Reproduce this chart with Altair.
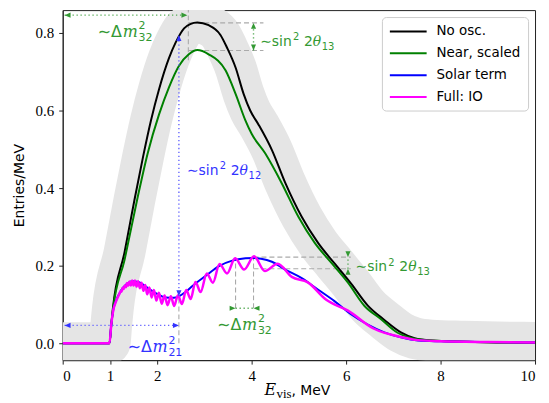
import altair as alt
import pandas as pd

# ---------------- data ----------------
noosc_x = [0.0, 0.99, 1.03, 1.06, 1.31, 1.52, 1.70, 1.87, 2.04, 2.25, 2.39, 2.57, 2.70, 2.85, 3.09,
           3.34, 3.48, 3.66, 3.83, 3.97, 4.15, 4.43, 4.71, 5.06, 5.41, 5.76, 6.11, 6.46, 6.81, 7.16,
           7.45, 7.80, 8.50, 9.20, 10.0]
noosc_y = [0.0, 0.0, 0.05, 0.087, 0.235, 0.37, 0.48, 0.575, 0.655, 0.735, 0.775, 0.812, 0.823, 0.827, 0.82,
           0.795, 0.762, 0.711, 0.643, 0.60, 0.563, 0.498, 0.414, 0.326, 0.258, 0.205, 0.153, 0.097, 0.06, 0.028,
           0.013, 0.007, 0.004, 0.002, 0.001]

near_x = [0.0, 0.99, 1.03, 1.06, 1.31, 1.585, 1.80, 2.04, 2.25, 2.46, 2.67, 2.85, 3.09, 3.45, 3.66,
          3.87, 4.00, 4.29, 4.64, 4.99, 5.34, 5.69, 6.04, 6.39, 6.74, 7.09, 7.40, 7.80, 8.50, 9.20, 10.0]
near_y = [0.0, 0.0, 0.048, 0.082, 0.215, 0.375, 0.49, 0.59, 0.66, 0.715, 0.745, 0.756, 0.745, 0.703, 0.643,
          0.574, 0.54, 0.489, 0.412, 0.326, 0.258, 0.207, 0.156, 0.096, 0.062, 0.027, 0.013, 0.007, 0.004, 0.002, 0.001]

solar_x = [0.0, 0.99, 1.03, 1.07, 1.13, 1.23, 1.35, 1.47, 1.60, 1.83, 2.00, 2.18, 2.35, 2.46, 2.60,
           2.74, 3.03, 3.31, 3.59, 3.87, 4.05, 4.20, 4.43, 4.71, 5.06, 5.41, 5.76, 6.11, 6.46, 6.81,
           7.16, 7.52, 8.0, 9.0, 10.0]
solar_y = [0.0, 0.0, 0.05, 0.085, 0.11, 0.135, 0.152, 0.16, 0.158, 0.14, 0.127, 0.118, 0.117, 0.121, 0.132,
           0.147, 0.174, 0.199, 0.213, 0.219, 0.22, 0.218, 0.21, 0.19, 0.168, 0.138, 0.108, 0.074, 0.048, 0.028,
           0.015, 0.007, 0.005, 0.003, 0.002]

full_x = [0.0, 0.99, 1.03, 1.07, 1.13, 1.20, 1.225, 1.246, 1.268, 1.29, 1.313, 1.337, 1.361, 1.386, 1.413,
          1.441, 1.47, 1.50, 1.53, 1.563, 1.597, 1.632, 1.669, 1.708, 1.748, 1.79, 1.835, 1.882, 1.931, 1.983,
          2.037, 2.096, 2.157, 2.22, 2.29, 2.36, 2.44, 2.525, 2.615, 2.71, 2.81, 2.92, 3.05, 3.18, 3.32,
          3.48, 3.65, 3.84, 4.05, 4.28, 4.55, 4.85, 5.19, 5.58, 6.04, 6.58, 7.16, 7.52, 8.0, 9.0, 10.0]
full_y = [0.0, 0.0, 0.05, 0.085, 0.108, 0.127, 0.134, 0.133, 0.143, 0.140, 0.149, 0.144, 0.155, 0.148, 0.159,
          0.149, 0.162, 0.149, 0.162, 0.146, 0.160, 0.142, 0.156, 0.135, 0.150, 0.126, 0.144, 0.118, 0.137, 0.110,
          0.130, 0.102, 0.123, 0.098, 0.121, 0.096, 0.124, 0.101, 0.137, 0.114, 0.158, 0.132, 0.180, 0.156, 0.204,
          0.180, 0.219, 0.190, 0.224, 0.186, 0.205, 0.171, 0.157, 0.112, 0.084, 0.038, 0.016, 0.008, 0.005, 0.003, 0.002]

series_names = ["No osc.", "Near, scaled", "Solar term", "Full: IO"]
series_colors = ["#000000", "#008000", "#0000ff", "#ff00ff"]
series_widths = [2.0, 2.0, 2.0, 2.5]

x_ticks = [0, 1, 2, 4, 6, 8, 10]
y_ticks = [0.0, 0.2, 0.4, 0.6, 0.8]

# annotation geometry (data coordinates)
dash_x = [2.66, 2.66, 2.66, 2.46, 3.66, 4.04, 4.04, 4.04]
dash_x2 = [2.66, 4.25, 4.25, 2.46, 3.66, 4.04, 6.10, 6.10]
dash_y = [0.73, 0.826, 0.755, 0.0, 0.09, 0.09, 0.222, 0.192]
dash_y2 = [0.862, 0.826, 0.755, 0.12, 0.222, 0.222, 0.222, 0.192]

GREEN = "#339933"
BLUE = "#3333ff"
GREEN_L = "#55aa55"
BLUE_L = "#6666ff"

arr_x = [0.04, 2.46, 4.04, 0.04, 3.66, 6.04]
arr_x2 = [2.64, 2.46, 4.04, 2.46, 4.04, 6.04]
arr_y = [0.846, 0.121, 0.755, 0.046, 0.09, 0.192]
arr_y2 = [0.846, 0.795, 0.826, 0.046, 0.09, 0.222]
arr_c = [GREEN_L, BLUE_L, GREEN_L, BLUE_L, GREEN_L, GREEN_L]

LEFT = "M0,0L2,-0.85L2,0.85Z"
RIGHT = "M0,0L-2,-0.85L-2,0.85Z"
UP = "M0,0L-0.85,2L0.85,2Z"
DOWN = "M0,0L-0.85,-2L0.85,-2Z"
head_x = [0.04, 2.64, 2.46, 2.46, 4.04, 4.04, 0.04, 2.46, 3.66, 4.04, 6.04, 6.04]
head_y = [0.846, 0.846, 0.795, 0.121, 0.826, 0.755, 0.046, 0.046, 0.09, 0.09, 0.222, 0.192]
head_s = [LEFT, RIGHT, UP, DOWN, UP, DOWN, LEFT, RIGHT, RIGHT, LEFT, DOWN, UP]
head_c = [GREEN, GREEN, BLUE, BLUE, GREEN, GREEN, BLUE, BLUE, GREEN, GREEN, GREEN, GREEN]

# ---------------- scales / axes ----------------
SANS = "DejaVu Sans"
SERIF = "Liberation Serif"
MSERIF = "DejaVu Serif"

xsc = alt.Scale(domain=[0, 10], nice=False, zero=False)
ysc = alt.Scale(domain=[-0.0436, 0.859], nice=False, zero=False)
xax = alt.Axis(values=x_ticks, format="d", title=None, grid=False, tickSize=4, labelPadding=4,
               labelFont=SERIF, labelFontSize=15, labelColor="#000", domainColor="#222", tickColor="#222")
yax = alt.Axis(values=y_ticks, format=".1f", title="Entries/MeV", grid=False, tickSize=4, labelPadding=5,
               labelFont=SERIF, labelFontSize=15, labelColor="#000", domainColor="#222", tickColor="#222",
               titleFont=SANS, titleFontSize=14, titleFontWeight="normal", titleColor="#000", titlePadding=9)


def X(f):
    return alt.X(f, scale=xsc, axis=xax)


def Y(f):
    return alt.Y(f, scale=ysc, axis=yax)


layers = []

# grey band
band_df = pd.DataFrame({"E": noosc_x, "N": noosc_y, "i": list(range(len(noosc_x)))})
layers.append(alt.Chart(band_df).mark_line(color="#e5e5e5", strokeWidth=42, strokeJoin="round",
                                           strokeCap="butt", clip=True, interpolate="monotone")
              .encode(x=X("E:Q"), y=Y("N:Q"), order="i:Q"))

# grey dashed helper lines
dash_df = pd.DataFrame({"x": dash_x, "x2": dash_x2, "y": dash_y, "y2": dash_y2})
layers.append(alt.Chart(dash_df).mark_rule(strokeDash=[5, 3], color="#aaaaaa", strokeWidth=1.1, clip=True)
              .encode(x=X("x:Q"), x2="x2:Q", y=Y("y:Q"), y2="y2:Q"))

# spectra
cscale = alt.Scale(domain=series_names, range=series_colors)
legend = alt.Legend(title=None, orient="top-right", offset=7, fillColor="white", strokeColor="#cccccc",
                    cornerRadius=4, padding=7, labelFont=SANS, labelFontSize=13.5, labelColor="#000",
                    symbolType="M-3,0H3", symbolStrokeWidth=2, symbolSize=152, symbolOffset=12,
                    labelOffset=21, rowPadding=8)
for name, xs, ys, w in zip(series_names, [noosc_x, near_x, solar_x, full_x],
                           [noosc_y, near_y, solar_y, full_y], series_widths):
    d = pd.DataFrame({"E": xs, "N": ys, "series": name, "i": list(range(len(xs)))})
    layers.append(alt.Chart(d).mark_line(strokeWidth=w, clip=True, interpolate="monotone")
                  .encode(x=X("E:Q"), y=Y("N:Q"), order="i:Q",
                          color=alt.Color("series:N", scale=cscale, legend=legend)))

# dotted arrows
arr_df = pd.DataFrame({"x": arr_x, "x2": arr_x2, "y": arr_y, "y2": arr_y2, "c": arr_c})
layers.append(alt.Chart(arr_df).mark_rule(strokeDash=[1.3, 2.7], strokeWidth=1.4)
              .encode(x=X("x:Q"), x2="x2:Q", y=Y("y:Q"), y2="y2:Q", stroke=alt.Stroke("c:N", scale=None)))
head_df = pd.DataFrame({"x": head_x, "y": head_y, "s": head_s, "c": head_c})
layers.append(alt.Chart(head_df).mark_point(filled=True, size=36, opacity=1, strokeWidth=0)
              .encode(x=X("x:Q"), y=Y("y:Q"), shape=alt.Shape("s:N", scale=None),
                      fill=alt.Fill("c:N", scale=None)))


def piece(x, y, text, dx, dy, size, font, style, color):
    d = pd.DataFrame({"x": [x], "y": [y], "t": [text]})
    return (alt.Chart(d).mark_text(align="left", baseline="alphabetic", dx=dx, dy=dy, fontSize=size,
                                   font=font, fontStyle=style, color=color)
            .encode(x=X("x:Q"), y=Y("y:Q"), text="t:N"))


def delta_m(x, y, sub, color):
    return [piece(x, y, "∼Δ", 0, 0, 16, SANS, "normal", color),
            piece(x, y, "m", 25, 0, 16, MSERIF, "italic", color),
            piece(x, y, "2", 41, -8, 11, SANS, "normal", color),
            piece(x, y, sub, 41, 4, 11, SANS, "normal", color)]


def sin_theta(x, y, sub, color):
    return [piece(x, y, "∼sin", 0, 0, 14, SANS, "normal", color),
            piece(x, y, "2", 33, -6, 10, SANS, "normal", color),
            piece(x, y, "2", 44, 0, 14, SANS, "normal", color),
            piece(x, y, "θ", 53, 0, 14, MSERIF, "italic", color),
            piece(x, y, sub, 62, 4, 10, SANS, "normal", color)]


layers += delta_m(0.743, 0.79, "32", GREEN)
layers += sin_theta(4.18, 0.767, "13", GREEN)
layers += sin_theta(2.63, 0.435, "12", BLUE)
layers += sin_theta(6.2, 0.185, "13", GREEN)
layers += delta_m(3.27, 0.034, "32", GREEN)
layers += delta_m(1.375, -0.022, "21", BLUE)

# x-axis title pieces (E_vis, MeV)
layers.append(alt.Chart(pd.DataFrame({"t": ["E"]})).mark_text(align="left", baseline="alphabetic",
                                                              fontSize=16, font=MSERIF,
                                                              fontStyle="italic", color="#000")
              .encode(x=alt.value(203), y=alt.value(387), text="t:N"))
layers.append(alt.Chart(pd.DataFrame({"t": ["vis"]})).mark_text(align="left", baseline="alphabetic",
                                                                fontSize=13, font=SERIF, color="#000")
              .encode(x=alt.value(215), y=alt.value(390), text="t:N"))
layers.append(alt.Chart(pd.DataFrame({"t": [", MeV"]})).mark_text(align="left", baseline="alphabetic",
                                                                  fontSize=14, font=SANS, color="#000")
              .encode(x=alt.value(230), y=alt.value(387), text="t:N"))

chart = (alt.layer(*layers)
         .properties(width=475, height=352,
                     autosize=alt.AutoSizeParams(type="none"),
                     padding={"left": 55, "top": 1, "right": 6, "bottom": 42})
         .configure_view(stroke="#222", strokeWidth=1))

chart.save("out.html", embed_options={"renderer": "svg", "actions": False})
